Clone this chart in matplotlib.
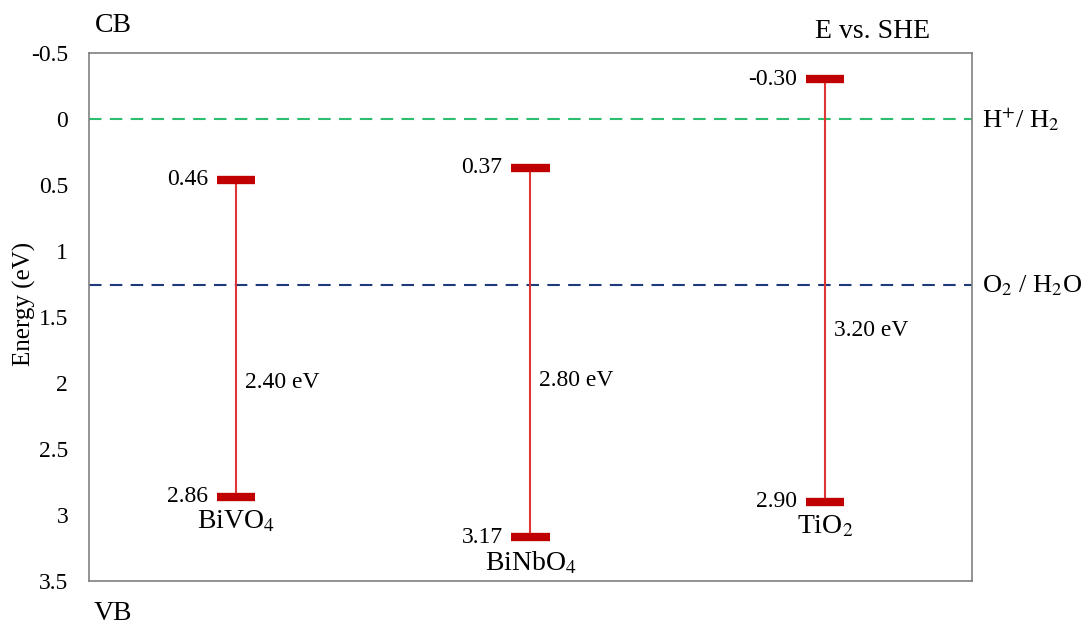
import matplotlib.pyplot as plt

plt.rcParams['font.family'] = ['Liberation Serif', 'DejaVu Serif']
plt.rcParams['mathtext.fontset'] = 'stix'

# Data
materials = ["BiVO$_4$", "BiNbO$_4$", "TiO$_2$"]
x_pos = [1, 3, 5]
cb_edges = [0.46, 0.37, -0.30]
vb_edges = [2.86, 3.17, 2.90]
gaps = ["2.40 eV", "2.80 eV", "3.20 eV"]
gap_label_y = [2.0, 1.98, 1.6]
h2_level = 0.0
o2_level = 1.26
yticks = [-0.5, 0, 0.5, 1, 1.5, 2, 2.5, 3, 3.5]
ytick_labels = ["-0.5", "0", "0.5", "1", "1.5", "2", "2.5", "3", "3.5"]

fig = plt.figure(figsize=(10.86, 6.28), dpi=100)
ax = fig.add_axes([89 / 1086, 1 - 581 / 628, 883 / 1086, 528 / 628])

# redox potential lines
ax.axhline(h2_level, color="#2dbd6e", linestyle=(0, (6, 4)), linewidth=1.5, zorder=1)
ax.axhline(o2_level, color="#1f3a7a", linestyle=(0, (6, 4)), linewidth=1.5, zorder=1)

half_w = 0.13
for x, cb, vb, gap, gy, name in zip(x_pos, cb_edges, vb_edges, gaps, gap_label_y, materials):
    ax.plot([x, x], [cb, vb], color="#e03535", linewidth=1.5, zorder=2)
    ax.plot([x - half_w, x + half_w], [cb, cb], color="#c00000", linewidth=6,
            solid_capstyle="butt", zorder=3)
    ax.plot([x - half_w, x + half_w], [vb, vb], color="#c00000", linewidth=6,
            solid_capstyle="butt", zorder=3)
    ax.text(x - half_w - 0.06, cb, f"{cb:.2f}", ha="right", va="center", fontsize=17)
    ax.text(x - half_w - 0.06, vb, f"{vb:.2f}", ha="right", va="center", fontsize=17)
    ax.text(x + 0.06, gy, gap, ha="left", va="center", fontsize=17)
    ax.text(x, vb + 0.09, name, ha="center", va="top", fontsize=20)

ax.set_xlim(0, 6)
ax.set_ylim(3.5, -0.5)
ax.set_xticks([])
ax.set_yticks(yticks)
ax.set_yticklabels(ytick_labels, fontsize=17)
ax.tick_params(axis="y", length=0, pad=15)
for sp in ax.spines.values():
    sp.set_color("#808080")
    sp.set_linewidth(1.2)

ax.set_ylabel("Energy (eV)", fontsize=18)
ax.yaxis.set_label_coords((36 - 89) / 883, 0.525)

# annotation text around the axes
fig.text(113 / 1086, 1 - 25 / 628, "CB", ha="center", va="center", fontsize=20)
fig.text(113 / 1086, 1 - 613 / 628, "VB", ha="center", va="center", fontsize=20)
fig.text(873 / 1086, 1 - 32 / 628, "E vs. SHE", ha="center", va="center", fontsize=20)
ax.text(1.011, h2_level, "H$^{+}$/ H$_2$", transform=ax.get_yaxis_transform(),
        ha="left", va="center", fontsize=19)
ax.text(1.011, o2_level, "O$_2$ / H$_2$O", transform=ax.get_yaxis_transform(),
        ha="left", va="center", fontsize=19)

fig.savefig("out.png", dpi=100)
